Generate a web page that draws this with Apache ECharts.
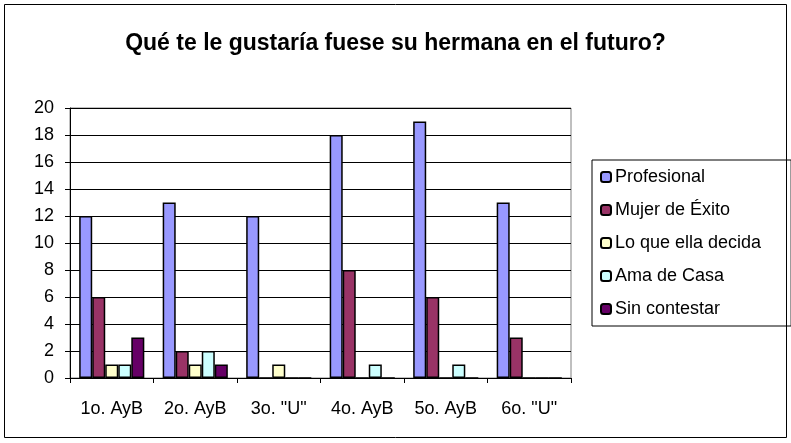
<!DOCTYPE html>
<html>
<head>
<meta charset="utf-8">
<script src="https://cdn.jsdelivr.net/npm/echarts@6/dist/echarts.min.js"></script>
<style>
    body { margin: 0; background: #fff; }
    #container { width: 791px; height: 443px; }
</style>
</head>
<body>
<div id="container"></div>
<script>
// categorias del eje x
var categories = ['1o. AyB', '2o. AyB', '3o. "U"', '4o. AyB', '5o. AyB', '6o. "U"']

// cada serie
var profesional = [12, 13, 12, 18, 19, 13]
var mujerExito = [6, 2, 0, 8, 6, 3]
var loQueEllaDecida = [1, 1, 1, 0, 0, 0]
var amaDeCasa = [1, 2, 0, 1, 1, 0]
var sinContestar = [3, 1, 0, 0, 0, 0]

var seriesNames = ['Profesional', 'Mujer de Éxito', 'Lo que ella decida', 'Ama de Casa', 'Sin contestar']
var seriesColors = ['#9999ff', '#993366', '#ffffcc', '#ccffff', '#660066']

const chartInit = function () {
    var dom = document.getElementById("container")
    var myChart = echarts.init(dom)

    var allData = [profesional, mujerExito, loQueEllaDecida, amaDeCasa, sinContestar]
    var series = []
    for (let i = 0; i < allData.length; i++) {
        series.push({
            name: seriesNames[i],
            type: 'bar',
            data: allData[i],
            barGap: '0%',
            barCategoryGap: '22%',
            itemStyle: {
                color: seriesColors[i],
                borderColor: '#000',
                borderWidth: 1.5,
            },
        })
    }

    var option = {
        animation: false,
        textStyle: { fontFamily: 'Liberation Sans, Arial, sans-serif' },
        title: {
            text: 'Qué te le gustaría fuese su hermana en el futuro?',
            left: 'center',
            top: 27,
            textStyle: { fontSize: 23, fontWeight: 'bold', color: '#000' },
        },
        graphic: [{
            type: 'rect',
            shape: { x: 4.5, y: 4.5, width: 782, height: 433 },
            style: { fill: 'none', stroke: '#000', lineWidth: 1 },
            silent: true,
        }],
        legend: {
            orient: 'vertical',
            left: 592,
            top: 160,
            padding: [8, 30, 8, 8],
            itemGap: 15,
            itemWidth: 10,
            itemHeight: 10,
            borderColor: '#000',
            borderWidth: 1,
            textStyle: { fontSize: 18, color: '#000', padding: [0, 0, 0, -1] },
            data: seriesNames,
        },
        grid: {
            left: 70,
            right: 220,
            top: 108,
            bottom: 65,
            show: true,
            borderColor: '#808080',
            borderWidth: 1,
        },
        xAxis: {
            type: 'category',
            data: categories,
            axisLine: { lineStyle: { color: '#000', width: 1 } },
            axisTick: { show: true, length: 5, lineStyle: { color: '#000' } },
            axisLabel: { fontSize: 18, color: '#000', margin: 22 },
        },
        yAxis: {
            type: 'value',
            min: 0,
            max: 20,
            interval: 2,
            axisLine: { show: true, lineStyle: { color: '#000', width: 1 } },
            axisTick: { show: true, length: 5, lineStyle: { color: '#000' } },
            axisLabel: { fontSize: 18, color: '#000', margin: 16 },
            splitLine: { lineStyle: { color: '#000', width: 1 } },
        },
        series: series,
    }

    myChart.setOption(option, true)
}

chartInit()
</script>
</body>
</html>
